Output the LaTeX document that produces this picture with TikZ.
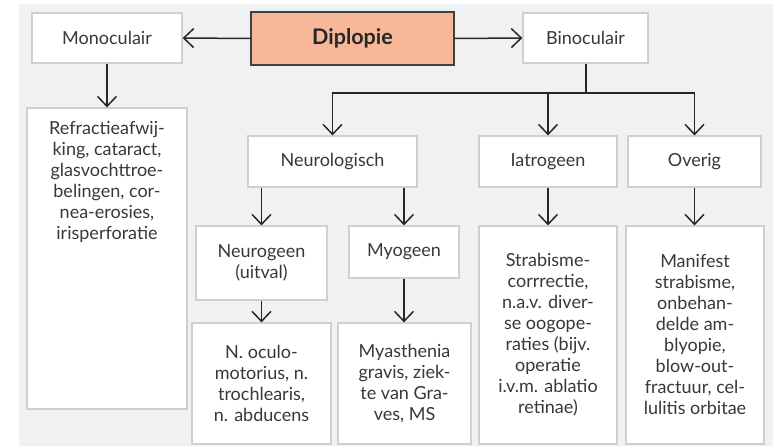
\documentclass[tikz,border=0pt]{standalone}
\usepackage{fontspec}
\setmainfont{Lato}
\usetikzlibrary{arrows.meta}
\definecolor{bgc}{HTML}{F0F1F3}
\definecolor{boxline}{HTML}{CFCFCF}
\definecolor{txt}{HTML}{383838}
\definecolor{lnc}{HTML}{262626}
\definecolor{salmon}{HTML}{F7B899}
\definecolor{darkline}{HTML}{404040}
\begin{document}
\begin{tikzpicture}[x=1pt,y=-1pt,
  box/.style={draw=boxline, line width=1.2pt, fill=white, align=center, inner sep=0pt,
    font=\fontsize{18}{21}\selectfont, text=txt},
  mainbox/.style={draw=darkline, line width=1.4pt, fill=salmon, inner sep=0pt,
    font=\fontsize{21.5}{24}\selectfont\bfseries, text=txt!70!black},
  conn/.style={draw=lnc, line width=1.5pt},
  arr/.style={conn, -{Straight Barb[length=10pt,width=19pt,line width=1.5pt]}}]
\useasboundingbox (0,0) rectangle (773,446);
\fill[bgc] (19,4) rectangle (773,446);

\node[box, minimum width=150, minimum height=50] (mono) at (107,38) {Monoculair};
\node[mainbox, minimum width=203, minimum height=53] (dip) at (352.5,38.5) {Diplopie};
\node[box, minimum width=125, minimum height=50] (bino) at (585.5,38) {Binoculair};

\node[box, minimum width=160, minimum height=301] (refr) at (107,258.5)
  {\parbox[c][299pt][t]{158pt}{\centering\vspace*{12pt}Refractieafwij-\\king, cataract,\\glasvochttroe-\\belingen, cor-\\nea-erosies,\\irisperforatie}};

\node[box, minimum width=169, minimum height=51] (neuro) at (332.5,161.5) {Neurologisch};
\node[box, minimum width=138, minimum height=51] (iatro) at (548,161.5) {Iatrogeen};
\node[box, minimum width=133, minimum height=51] (overig) at (694.5,161.5) {Overig};

\node[box, minimum width=131, minimum height=74] (neurog) at (261.5,263) {Neurogeen\\(uitval)};
\node[box, minimum width=110, minimum height=52] (myo) at (404,252) {Myogeen};

\node[box, minimum width=139, minimum height=121] (ocul) at (261.5,383.5)
  {N. oculo-\\motorius, n.\\trochlearis,\\n. abducens};
\node[box, minimum width=133, minimum height=121] (myas) at (404.5,383.5)
  {Myasthenia\\gravis, ziek-\\te van Gra-\\ves, MS};
\node[box, minimum width=138, minimum height=218] (strab) at (548,335)
  {Strabisme-\\corrrectie,\\n.a.v. diver-\\se oogope-\\raties (bijv.\\operatie\\i.v.m. ablatio\\retinae)};
\node[box, minimum width=138, minimum height=218] (manif) at (695,335)
  {Manifest\\strabisme,\\onbehan-\\delde am-\\blyopie,\\blow-out-\\fractuur, cel-\\lulitis orbitae};

\draw[arr] (dip.west) -- (mono.east);
\draw[arr] (dip.east) -- (bino.west);
\draw[arr] (mono.south) -- (refr.north);

\coordinate (split) at (586,93);
\draw[conn] (bino.south -| split) -- (split);
\draw[arr] (split) -| (neuro.north);
\draw[arr] (split) -| (overig.north);
\draw[arr] (split -| iatro.north) -- (iatro.north);

\draw[arr] (neuro.south -| neurog.north) -- (neurog.north);
\draw[arr] (neuro.south -| myo.north) -- (myo.north);
\draw[arr] (neurog.south) -- (ocul.north -| neurog.south);
\draw[arr] (myo.south) -- (myas.north -| myo.south);
\draw[arr] (iatro.south) -- (strab.north);
\draw[arr] (overig.south) -- (overig.south |- manif.north);
\end{tikzpicture}
\end{document}
